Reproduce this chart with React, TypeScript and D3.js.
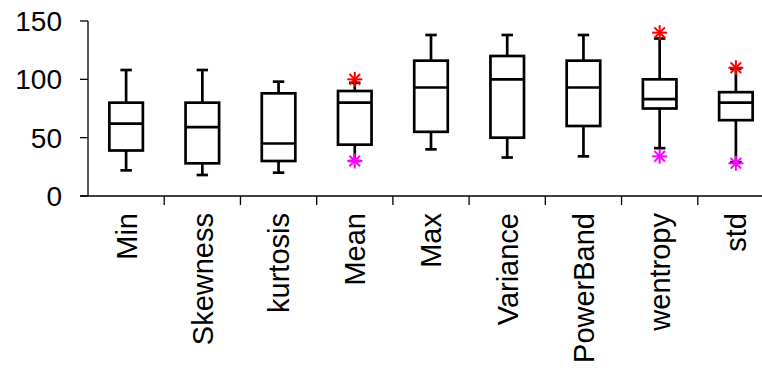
import React, { useEffect, useRef } from "react";
import * as d3 from "d3";

// box plot stats
const categories = ["Min", "Skewness", "kurtosis", "Mean", "Max", "Variance", "PowerBand", "wentropy", "std"];
const lowWhisker = [22, 18, 20, 30, 40, 33, 34, 41, 29];
const q1 = [39, 28, 30, 44, 55, 50, 60, 75, 65];
const median = [62, 59, 45, 80, 93, 100, 93, 83, 80];
const q3 = [80, 80, 88, 90, 116, 120, 116, 100, 89];
const highWhisker = [108, 108, 98, 97, 138, 138, 138, 135, 109];
const highOutlier: (number | null)[] = [null, null, null, 100, null, null, null, 140, 110];
const lowOutlier: (number | null)[] = [null, null, null, 30, null, null, null, 34, 28];
const yTicks = [0, 50, 100, 150];

const W = 762;
const H = 372;

export default function App() {
  const ref = useRef<SVGSVGElement>(null);

  useEffect(() => {
    const svg = d3.select(ref.current);
    svg.selectAll("*").remove();

    const x = d3.scaleBand<string>().domain(categories).range([88, 774]).padding(0);
    const y = d3.scaleLinear().domain([0, 150]).range([196, 21]);
    const font = "'Liberation Sans', Arial, sans-serif";

    svg.append("rect").attr("width", W).attr("height", H).style("fill", "#fff");

    // axes
    svg.append("line").attr("x1", 88).attr("x2", 88).attr("y1", y(150)).attr("y2", y(0))
      .style("stroke", "#000").style("stroke-width", 1.3);
    svg.append("line").attr("x1", 80).attr("x2", W).attr("y1", y(0)).attr("y2", y(0))
      .style("stroke", "#000").style("stroke-width", 1.3);

    yTicks.forEach(t => {
      svg.append("line").attr("x1", 80).attr("x2", 88).attr("y1", y(t)).attr("y2", y(t))
        .style("stroke", "#000").style("stroke-width", 1.3);
      svg.append("text").attr("x", 62).attr("y", y(t)).attr("dy", "0.36em")
        .attr("text-anchor", "end").style("font-family", font).style("font-size", "28px")
        .text(t);
    });

    categories.forEach((c, i) => {
      const left = x(c)!;
      const cx = left + x.bandwidth() / 2;
      if (i > 0) {
        svg.append("line").attr("x1", left).attr("x2", left).attr("y1", y(0)).attr("y2", y(0) + 9)
          .style("stroke", "#000").style("stroke-width", 1.3);
      }
      svg.append("text")
        .attr("transform", `translate(${cx},213) rotate(-90)`)
        .attr("dy", "0.36em")
        .attr("text-anchor", "end")
        .style("font-family", font).style("font-size", "29px")
        .text(c);
    });

    const boxW = x.bandwidth() * 0.44;
    const capW = x.bandwidth() * 0.15;
    const g = svg.append("g").style("stroke", "#000").style("stroke-width", 2.7).style("fill", "none");

    categories.forEach((c, i) => {
      const cx = x(c)! + x.bandwidth() / 2;
      g.append("line").attr("x1", cx).attr("x2", cx).attr("y1", y(q3[i])).attr("y2", y(highWhisker[i]));
      g.append("line").attr("x1", cx).attr("x2", cx).attr("y1", y(q1[i])).attr("y2", y(lowWhisker[i]));
      g.append("line").attr("x1", cx - capW / 2).attr("x2", cx + capW / 2)
        .attr("y1", y(highWhisker[i])).attr("y2", y(highWhisker[i]));
      g.append("line").attr("x1", cx - capW / 2).attr("x2", cx + capW / 2)
        .attr("y1", y(lowWhisker[i])).attr("y2", y(lowWhisker[i]));
      g.append("rect").attr("x", cx - boxW / 2).attr("width", boxW)
        .attr("y", y(q3[i])).attr("height", y(q1[i]) - y(q3[i]));
      g.append("line").attr("x1", cx - boxW / 2).attr("x2", cx + boxW / 2)
        .attr("y1", y(median[i])).attr("y2", y(median[i]));
    });

    const star = (cx: number, cy: number, color: string) => {
      const r = 7.5;
      const s = svg.append("g").style("stroke", color).style("stroke-width", 2);
      [0, 45, 90, 135].forEach(a => {
        const rad = (a * Math.PI) / 180;
        s.append("line")
          .attr("x1", cx - r * Math.cos(rad)).attr("y1", cy - r * Math.sin(rad))
          .attr("x2", cx + r * Math.cos(rad)).attr("y2", cy + r * Math.sin(rad));
      });
    };
    categories.forEach((c, i) => {
      const cx = x(c)! + x.bandwidth() / 2;
      if (highOutlier[i] != null) star(cx, y(highOutlier[i]!), "#ff0000");
      if (lowOutlier[i] != null) star(cx, y(lowOutlier[i]!), "#ff00ff");
    });
  }, []);

  return (
    <svg ref={ref} width={W} height={H}
      style={{ position: "absolute", left: 0, top: 0, display: "block" }} />
  );
}
